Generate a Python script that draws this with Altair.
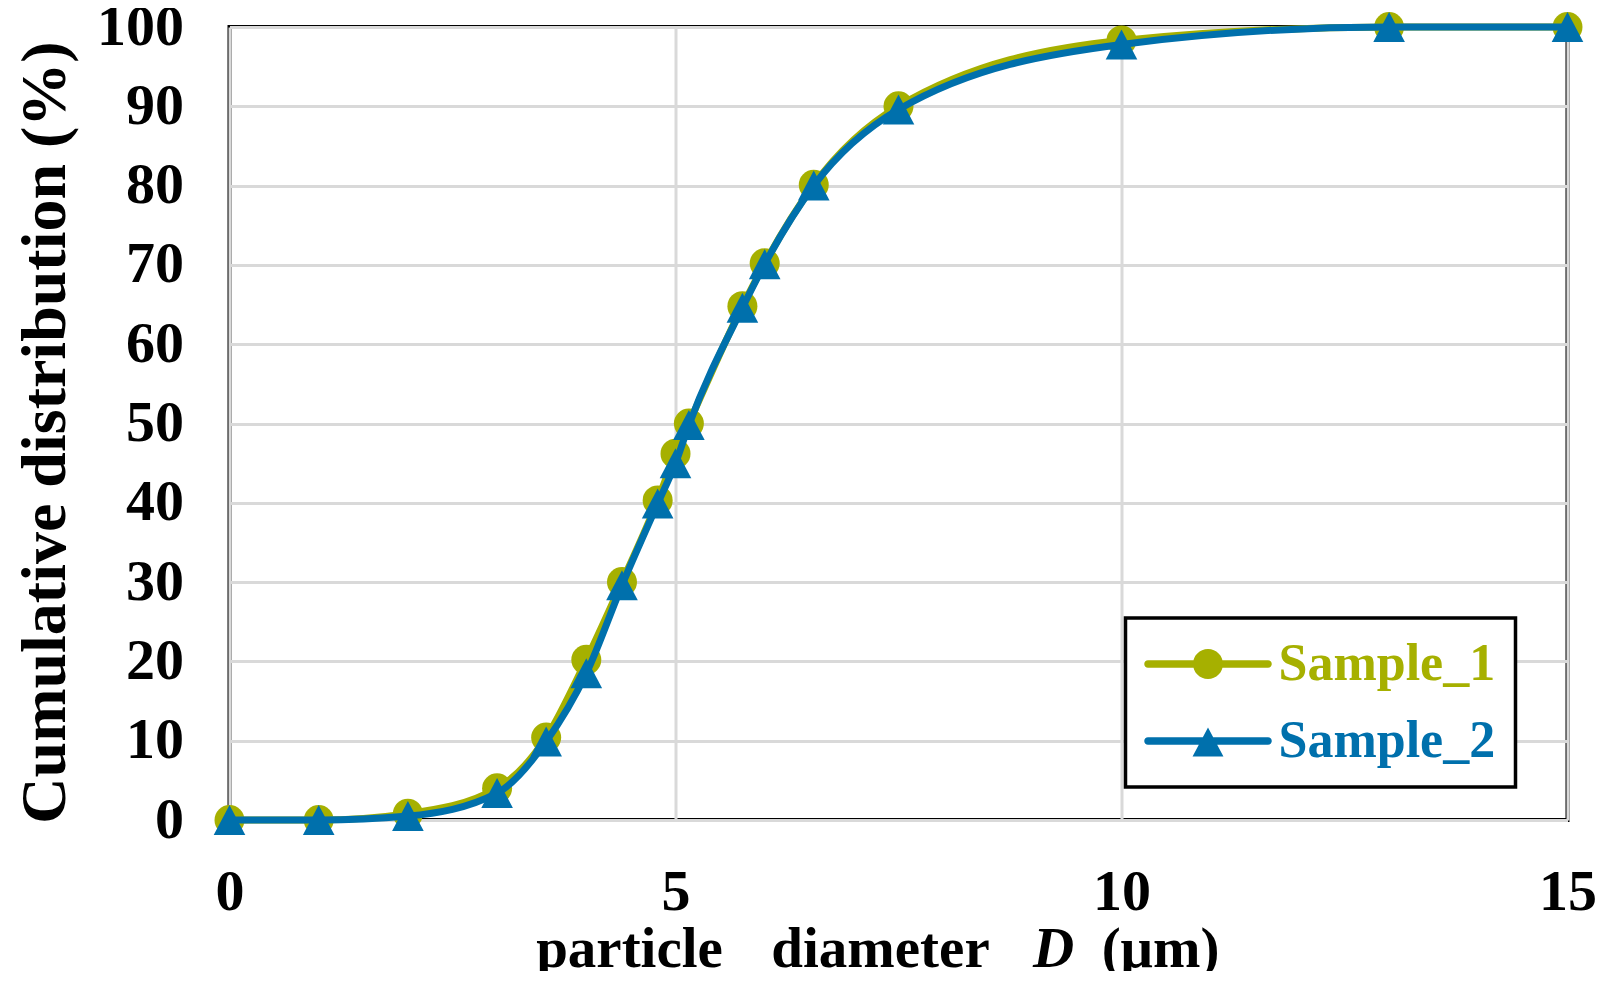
import altair as alt
import pandas as pd

# ---------------- data ----------------
diameter = [0, 1, 2, 3, 3.55, 4, 4.4, 4.8, 5, 5.15, 5.75, 6, 6.55, 7.5, 10, 13, 15]
sample_1 = [0, 0, 0.8, 4.0, 10.4, 20.2, 30.0, 40.3, 46.2, 50.0, 64.8, 70.2, 80.1, 90.0, 98.3, 100, 100]
sample_2 = [0, 0, 0.5, 3.4, 9.9, 18.5, 29.6, 39.9, 45.0, 49.8, 64.6, 70.1, 80.0, 89.6, 97.8, 100, 100]
series_names = ["Sample_1", "Sample_2"]
series_colors = ["#A6B000", "#0070AC"]
x_ticks = [0, 5, 10, 15]
y_ticks = [0, 10, 20, 30, 40, 50, 60, 70, 80, 90, 100]
y_title = "Cumulative distribution (%)"
x_title_parts = ["particle", "diameter", "D", "(μm)"]

n = len(diameter)
df = pd.DataFrame({
    "D": diameter + diameter,
    "value": sample_1 + sample_2,
    "series": [series_names[0]] * n + [series_names[1]] * n,
})

FONT = "Liberation Serif"
W, H = 1338, 793

color_scale = alt.Scale(domain=series_names, range=series_colors)
x_enc = alt.X("D:Q", scale=alt.Scale(domain=[0, 15], nice=False),
              axis=alt.Axis(values=x_ticks, title=None, labelPadding=43,
                            gridWidth=3, labelFlush=False))
y_enc = alt.Y("value:Q", scale=alt.Scale(domain=[0, 100], nice=False),
              axis=alt.Axis(values=y_ticks, title=y_title, labelPadding=46,
                            titleFont=FONT, titleFontSize=64, titleFontWeight="bold",
                            titleAngle=270, titleAlign="center", titleBaseline="middle",
                            titleX=-184, titleY=405, labelFlush=False))

LINE = "M-4,-0.25L4,-0.25A0.25,0.25,0,0,1,4,0.25L-4,0.25A0.25,0.25,0,0,1,-4,-0.25Z"
TRI = "M0,-0.95L1,0.95L-1,0.95Z"
SYM1 = LINE + "M-1,0A1,1,0,1,1,1,0A1,1,0,1,1,-1,0Z"
SYM2 = LINE + "M0,-0.9L1.03,1.03L-1.03,1.03Z"

pick = "datum.value === '" + series_names[0] + "'"
label_pick = "datum.label === '" + series_names[0] + "'"

legend = alt.Legend(
    title=None, orient="none", legendX=896, legendY=591, direction="vertical",
    symbolSize=900, labelFont=FONT, labelFontSize=52, labelFontWeight="bold",
    symbolOffset=36.5, labelOffset=44.5, labelLimit=500, padding=20, rowPadding=25,
    symbolType=alt.ExprRef(expr=f"{pick} ? '{SYM1}' : '{SYM2}'"),
    symbolFillColor=alt.ExprRef(expr=f"{pick} ? '{series_colors[0]}' : '{series_colors[1]}'"),
    symbolStrokeWidth=0, symbolOpacity=1,
    labelColor=alt.ExprRef(expr=f"{label_pick} ? '{series_colors[0]}' : '{series_colors[1]}'"),
    strokeColor="black", fillColor="white",
)
color_enc = alt.Color("series:N", scale=color_scale, legend=legend)

base = alt.Chart(df)


def line_layer(name):
    return base.transform_filter(alt.datum.series == name).mark_line(
        interpolate="monotone", strokeWidth=7, strokeCap="round", strokeJoin="round"
    ).encode(x=x_enc, y=y_enc, color=color_enc)


def point_layer(name, shape, size):
    return base.transform_filter(alt.datum.series == name).mark_point(
        shape=shape, filled=True, size=size, opacity=1
    ).encode(x=x_enc, y=y_enc, color=color_enc)


def title_piece(text, px, italic=False):
    props = dict(font=FONT, fontSize=57, fontWeight="bold", align="center",
                 baseline="alphabetic", color="black")
    if italic:
        props["fontStyle"] = "italic"
    return alt.Chart(pd.DataFrame({"t": [text]})).mark_text(**props).encode(
        text="t:N", x=alt.value(px), y=alt.value(940))


chart = alt.layer(
    line_layer(series_names[0]),
    point_layer(series_names[0], "circle", 900),
    line_layer(series_names[1]),
    point_layer(series_names[1], TRI, 1000),
    title_piece(x_title_parts[0], 400),
    title_piece(x_title_parts[1], 651),
    title_piece(x_title_parts[2], 824, italic=True),
    title_piece(x_title_parts[3], 931),
).properties(
    width=W, height=H,
    autosize=alt.AutoSizeParams(type="none"),
    padding={"left": 221.5, "top": 19, "right": 40, "bottom": 151},
).configure_view(
    stroke="black", strokeWidth=4
).configure_axis(
    grid=True, gridColor="#D9D9D9", gridWidth=3, domain=False, ticks=False,
    labelFont=FONT, labelFontSize=58, labelFontWeight="bold", labelColor="black",
    titleColor="black"
).configure_legend(
    strokeWidth=3.5
)

chart.save("out.html", embed_options={"renderer": "svg", "actions": False})
